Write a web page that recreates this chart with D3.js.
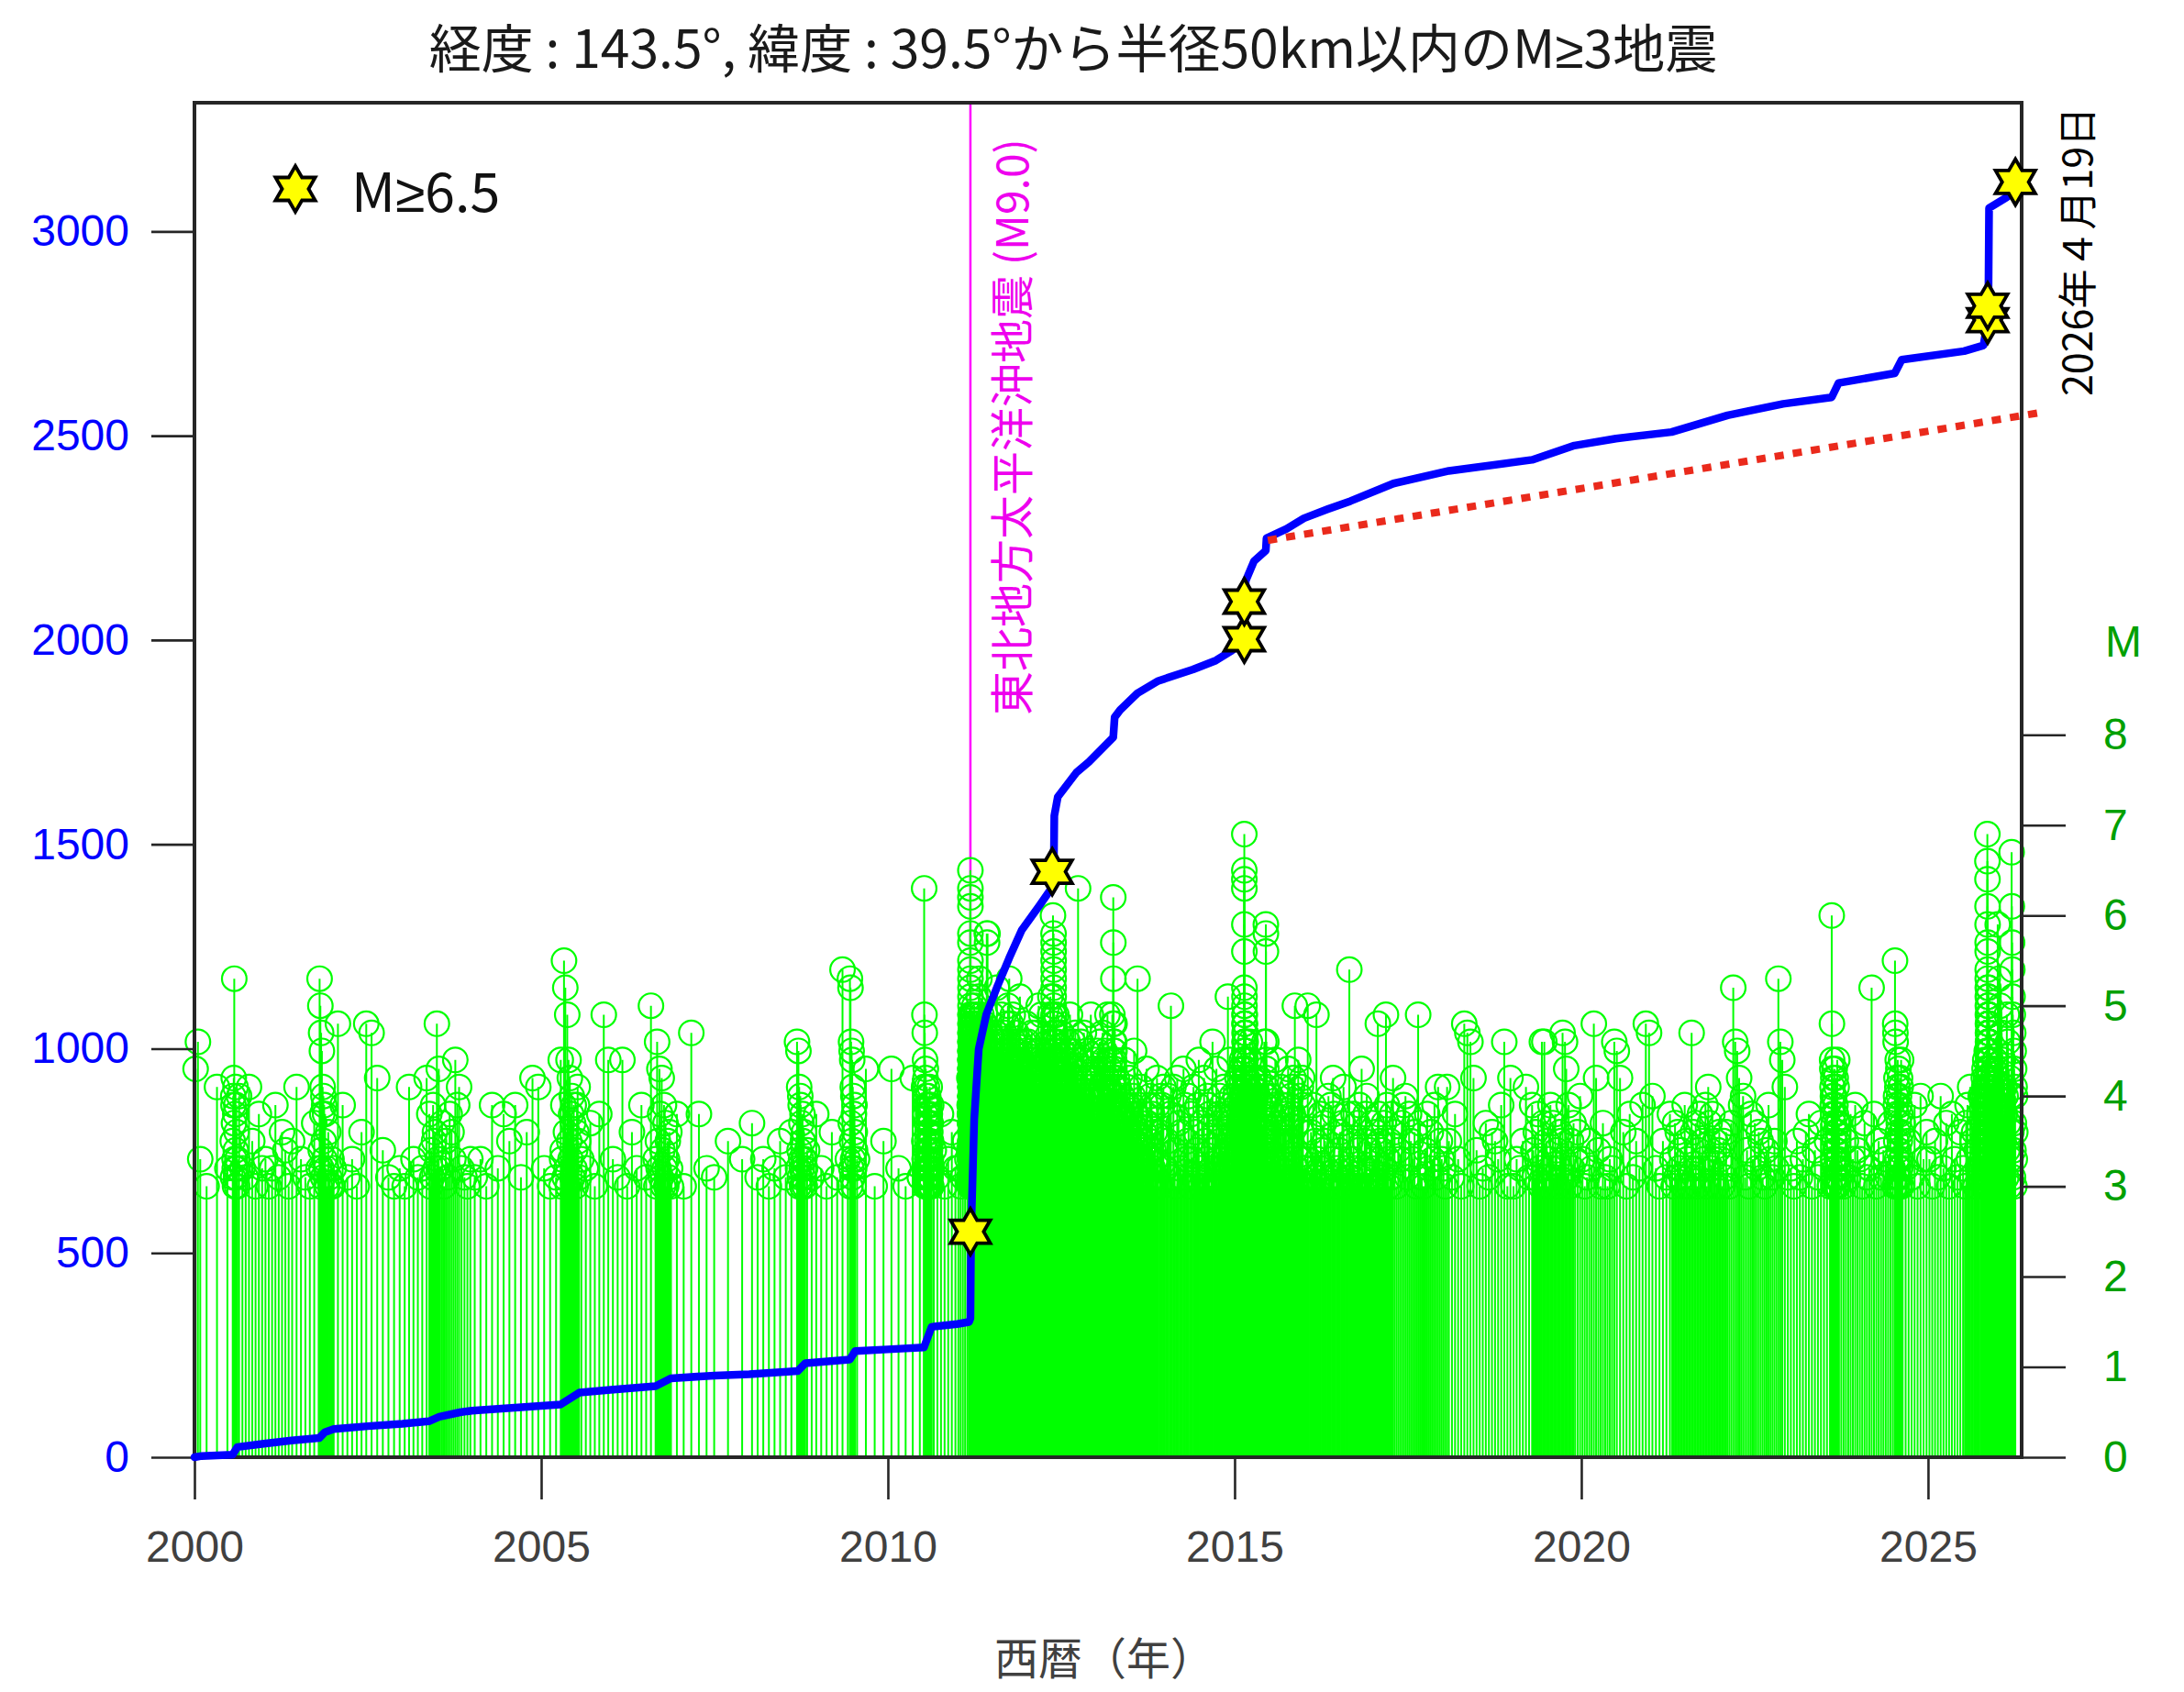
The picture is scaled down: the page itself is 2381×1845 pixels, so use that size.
<!DOCTYPE html>
<html>
<head>
<meta charset="utf-8">
<script src="https://cdn.jsdelivr.net/npm/d3@7"></script>
<style>
  body { margin: 0; background: #fff; }
</style>
</head>
<body>
<svg id="chart" width="2381" height="1845"></svg>
<script>
// Cumulative number of M>=3 quakes (left axis), as a time series in decimal years.
const countYears = [
  2000.00, 2000.10, 2000.55, 2000.62, 2001.00, 2001.40, 2001.80, 2001.88, 2002.01, 2002.50,
  2003.00, 2003.38, 2003.53, 2003.83, 2004.00, 2005.28, 2005.55, 2006.00, 2006.65, 2006.87,
  2007.50, 2008.00, 2008.70, 2008.81, 2009.45, 2009.53, 2010.00, 2010.52, 2010.63, 2011.00,
  2011.17, 2011.19, 2011.20, 2011.245, 2011.31, 2011.42, 2011.58, 2011.75, 2011.93, 2012.19,
  2012.39, 2012.40, 2012.45, 2012.72, 2012.90, 2013.25, 2013.27, 2013.35, 2013.60, 2013.90,
  2014.40, 2014.73, 2014.95, 2015.14, 2015.15, 2015.16, 2015.28, 2015.45, 2015.46, 2015.75,
  2016.00, 2016.34, 2016.67, 2017.29, 2018.09, 2019.29, 2019.90, 2020.50, 2021.30, 2022.11,
  2022.91, 2023.61, 2023.71, 2024.52, 2024.62, 2025.52, 2025.80, 2025.86, 2025.87, 2025.88,
  2026.13, 2026.20, 2026.26
];
const countValues = [
  0, 3, 6, 25, 33, 41, 47, 61, 69, 76,
  82, 88, 99, 110, 114, 129, 158, 165, 174, 193,
  200, 203, 211, 230, 239, 260, 264, 269, 319, 326,
  331, 340, 552, 827, 999, 1084, 1153, 1222, 1290, 1351,
  1400, 1570, 1616, 1676, 1702, 1762, 1811, 1829, 1870, 1900,
  1928, 1950, 1973, 1999, 2094, 2145, 2193, 2219, 2249, 2272,
  2298, 2320, 2340, 2383, 2414, 2441, 2476, 2493, 2509, 2550,
  2578, 2594, 2629, 2653, 2686, 2707, 2721, 2783, 2818, 3057,
  3083, 3092, 3110
];

// M>=6.5 events, placed on the running count.
const majorYears  = [2011.19, 2012.37, 2015.14, 2015.14, 2025.86, 2025.86, 2026.26];
const majorCounts = [552, 1433, 2002, 2094, 2783, 2818, 3121];

// Pre-2015 rate extended forward (red dotted line).
const trendYears  = [2015.48, 2026.60];
const trendCounts = [2244, 2556];

const mainshockYear = 2011.19;

const yearTicks  = [2000, 2005, 2010, 2015, 2020, 2025];
const countTicks = [0, 500, 1000, 1500, 2000, 2500, 3000];
const magTicks   = [0, 1, 2, 3, 4, 5, 6, 7, 8];

// Magnitudes of the individual quakes, one code string per calendar year, in time order.
// Each symbol is M = 3.0 + 0.1 * (its position in MAG_SYMBOLS).
const MAG_SYMBOLS = "0123456789ABCDEFGHIJKLMNOPQRSTUVWXYZabcde";
const quakeYearStarts = [
  2000, 2001, 2002, 2003, 2004, 2005, 2006, 2007, 2008, 2009, 2010, 2011, 2012, 2013,
  2014, 2015, 2016, 2017, 2018, 2019, 2020, 2021, 2022, 2023, 2024, 2025, 2026
];
const quakeMagCodes = [
  // 2000
  "DG30B251A9C7N3208B4196203A21B5082",
  // 2001
  "302916405B31072N0K4H2F8B1A59382061030",
  // 2002
  "2I91306IHC4102",
  // 2003
  "0B312C80419562I3D27051863E9B2103",
  // 2004
  "1309285916CB",
  // 2005
  "201E0349P1M62J0E5C38A17924069B5132708JE",
  // 2006
  "31E06291K30G52D81C4092703516208",
  // 2007
  "0H82153",
  // 2008
  "71302516G2F0B41A9372085136302418",
  // 2009
  "2061O3N0M7G2F5E1B3A0829643D05",
  // 2010
  "D20C1BX5J3H0E28C1D4A0927B35160298A417035291B8406217359024180362",
  // 2011
  "2015341C093817" +
  "Z4X0W27V1S3R58A0P2OBN6C1M4D0L9K3E7J2F5I0H8G1" +
  "4A1F30C72G5B08D3H16E0B52E9A3I41C07F28D6J3C90A4G16B2E85D0F7A3H2A60C4B81E37D9G05B2" +
  "1F4A08C3J62B5D9E0A747D2B5G0A91C4E3F82H065A3C8E1B04G7D2A96F3I2E0B6A4D91C5H3F72A08" +
  "A4B6C20D5E3F" +
  "9C1A5E3B70D8G2F46A1J6B4D0A2C85E1I37G9F0A0B52E9A3I41C07F28D6J4A1F30C72G5B08D3H16E" +
  "H2A60C4B81E37D9G05B23C90A4G16B2E85D0F7A37D2B5G0A91C4E3F82H061F4A08C3J62B5D9E0A74" +
  "2E0B6A4D91C5H3F72A085A3C8E1B04G7D2A96F3I6B4D0A2C85E1I37G9F0A9C1A5E3B70D8G2F46A1J" +
  "0B52E9A3I41C07F28D6J4A1F30C72G5B08D3H16EH2A60C4B81E37D9G05B2K3A9C1E5B0G27D4" +
  "7D2B5G0A91C4E3F82H063C90A4G16B2E85D0F7A31F4A08C3J62B5D9E0A745A3C8E1B04G7D2A96F3I" +
  "2E0B6A4D91C5H3F72A089C1A5E3B70D8G2F46A1J6B4D0A2C85E1I37G9F0A4A1F30C72G5B08D3H16E" +
  "L0A4C8E2N6B1" +
  "0B52E9A3I41C07F28D6JH2A60C4B81E37D9G05B25A3C8E1B04G7D2A96F3I3C90A4G16B2E85D0F7A3S1R36" +
  "S7D2B5G0A91C4E3F82H061F4A08C3J62B5D9E0A742E0B6A4D91C5H3F72A08M0A3B51D" +
  "9C1A5E3B70D8G2F46A1J4A1F30C72G5B08D3H16E6B4D0A2C85E1I37G9F0AK2A6C0E4N" +
  "0B52E9A3I41C07F28D6J3C90A4G16B2E85D0F7A3H2A60C4B81E37D9G05B2L1A5C9E3" +
  "5A3C8E1B04G7D2A96F3I",
  // 2012
  "7D2B5G0A91C4E3F82H062E0B6A4D91C5H3F72A08K" +
  "1F4A08C3J62B5D9E0A749C1A5E3B70D8G2F46A1JL0B3E6A92" +
  "U4S0R2Q7P1O3N5M8L0K6J2I9H1G4F7E0D3C5B8A1" +
  "4A1F30C72G5B08D3H16E0B52E9A3I41C07F28D6J6B4D0A2C85E1I37G9F0A3C90A4G16B2E85D0F7A3" +
  "H2A60C4B81E37D9G05B25A3C8E1B04G7D2A96F3IJ4A6B8C0D2" +
  "7D2B5G0A91C4E3F82H061F4A08C3J62B5D9E0A74G3A5B7" +
  "2E0B6A4D91C5H3F72A089C1A5E3B70D8G2F46A1J4A1F30C72G5B08D3H16E" +
  "4A7X0B3C6G9E2A5H8C1D4F7A0B" +
  "3C60J2A5B8C1D4E70",
  // 2013
  "4A1F30C72G5B08D3H16E1F4A08C3J62B5D9E0A74J2I" +
  "W2R5N83C90A4G16B2E85D0F7A35A3C8E1B04G7D2A96F3IA0B" +
  "3A0172C50489B13605" +
  "1604A3829E05173B29065C2081937A40F6251803N" +
  "0917B3546028D1735A498240631C90" +
  "6A9B2",
  // 2014
  "25A8K1B40C7261D935A083B1649E2071C53A9802G461D3087A52913B06482L57E09A21630",
  // 2015
  "3A619C0B4827D1E5A30" +
  "dZ1Y4X7T0Q3M6A9B2C5D8E1K4L7J0I3H6G9F2E5D8C1B4A7" +
  "0B52E9A3I41C07F28D6J6B4D0A2C85E1I37G9F0A4A1F30C72G5B08D3H16E2E0B6A4D91C5H3F72A08" +
  "H2A60C4B81E37D9G05B2" +
  "8240631C90527B41E3682G51940A73862C05193B3A0172C5" +
  "3A0172C50489B136052G6A03" +
  "T8S1Q40A72C3506E9A2B51G8D14A7" +
  "1604A3829E05173B2906583" +
  "1D902A5B8C1K4071E0A3B6C92",
  // 2016
  "203K1062915J3028417520A193C80214637B0281O51382007491D2058A014270",
  // 2017
  "3062I8504172J930518C604379A185360J7104826391B53",
  // 2018
  "20B51830IHGC402716539G0C",
  // 2019
  "0325B194163820G7G15039271840265H3GD19052736A",
  // 2020
  "30152IC4071032GFC6081529IH",
  // 2021
  "A2051830716241095302H61704825390B72835046",
  // 2022
  "30516207MGFC9A14083726510493152NGEB1",
  // 2023
  "20513680417250UIEDB9A8C3701A5D2469C8014B37E250631720518394",
  // 2024
  "30712M8051431720PIHG9A5C803B1E62D47A0915C28B3E60725190A36",
  // 2025
  "3051A2708316" +
  "20793B1560428A" +
  "3A0172C50489B13605D21604A3829E05173B29065C2081937A40F6251803A1" +
  "daYVTRQO1N4M7L0K3J6I9H2G5F8E1D4C7B0" +
  "4A1F30C72G5B08D3H16EK0L3M60B52E9A3I41C07F28D6J6B4D0A2C85E1I37G9F0A3C90A4G16B2E85D0F7A3" +
  "H2A60C4B81E37D9G05B25A3C8E1B04G7D2A96F3I7D2B5G0A91C4E3F82H061F4A08C3J62B5D9E0A74" +
  "2E0B6A4D91C5H3F72A089C1A5E3B70D8G2F46A1J0B52E9A3I41C07F28D6J4A1F30C72G5B08D3H16E" +
  "2A5B8C1D4E7A0B3" +
  "1A4B7C0D3E6A9",
  // 2026
  "T3N6K9H2E5B8A1J4G7D0C3A6bVROLJ1H4F7D0B3A6"
];

// ---------- helpers on the running-count curve ----------
function countAtYear(t) {
  const i = d3.bisectRight(countYears, t);
  if (i <= 0) return countValues[0];
  if (i >= countYears.length) return countValues[countValues.length - 1];
  const t0 = countYears[i - 1], t1 = countYears[i];
  return countValues[i - 1] + (countValues[i] - countValues[i - 1]) * (t - t0) / (t1 - t0);
}
function yearAtCount(k) {
  const i = d3.bisectLeft(countValues, k);
  if (i <= 0) return countYears[0];
  if (i >= countValues.length) return countYears[countYears.length - 1];
  const c0 = countValues[i - 1], c1 = countValues[i];
  return countYears[i - 1] + (countYears[i] - countYears[i - 1]) * (k - c0) / (c1 - c0);
}

// Each quake sits where the running count passes its own index within the year.
const lastCount = countValues[countValues.length - 1];
const quakes = [];
quakeMagCodes.forEach((codes, j) => {
  const c0 = countAtYear(quakeYearStarts[j]);
  const c1 = j + 1 < quakeYearStarts.length ? countAtYear(quakeYearStarts[j + 1]) : lastCount;
  for (let i = 0; i < codes.length; i++) {
    const k = c0 + (i + 0.5) / codes.length * (c1 - c0);
    quakes.push({ t: yearAtCount(k), m: 3 + MAG_SYMBOLS.indexOf(codes[i]) / 10 });
  }
});

// ---------- layout & scales ----------
const plot = { left: 212, right: 2204, top: 112, bottom: 1589 };
const x = d3.scaleLinear().domain([2000, 2026.35]).range([plot.left, plot.right]);
const yCount = d3.scaleLinear().domain([0, 3315]).range([plot.bottom, plot.top]);
const yMag = d3.scaleLinear().domain([0, 15]).range([plot.bottom, plot.top]);

const svg = d3.select("#chart");
svg.append("rect").attr("width", 2381).attr("height", 1845).attr("fill", "#fff");

const AXIS_INK = "#262626";
const LATIN = "'Liberation Sans', Arial, Helvetica, sans-serif";
const CJK = "'Noto Sans CJK JP', 'Noto Sans', sans-serif";
const MAG_GREEN = "#00a000";

// Mainshock marker line
svg.append("line")
  .attr("x1", x(mainshockYear)).attr("x2", x(mainshockYear))
  .attr("y1", plot.top).attr("y2", plot.bottom)
  .attr("stroke", "#ff00ff").attr("stroke-width", 2.5);

// Magnitude stems
const stems = svg.append("g").attr("stroke", "#00ff00").attr("fill", "none");
stems.selectAll("line").data(quakes).join("line")
  .attr("x1", d => x(d.t)).attr("x2", d => x(d.t))
  .attr("y1", yMag(0)).attr("y2", d => yMag(d.m))
  .attr("stroke-width", 2);
stems.selectAll("circle").data(quakes).join("circle")
  .attr("cx", d => x(d.t)).attr("cy", d => yMag(d.m))
  .attr("r", 13.4).attr("stroke-width", 2.2);

// Axes
function styleAxis(g, color) {
  g.select(".domain").remove();
  g.selectAll(".tick line").attr("stroke", AXIS_INK).attr("stroke-width", 2.6);
  g.selectAll(".tick text").attr("fill", color).attr("font-size", 48).attr("font-family", LATIN);
}
svg.append("g").attr("transform", `translate(${plot.left},0)`)
  .call(d3.axisLeft(yCount).tickValues(countTicks).tickSize(47).tickPadding(24).tickFormat(d3.format("d")))
  .call(g => styleAxis(g, "#0000ff"));
svg.append("g").attr("transform", `translate(0,${plot.bottom})`)
  .call(d3.axisBottom(x).tickValues(yearTicks).tickSize(46).tickPadding(34).tickFormat(d3.format("d")))
  .call(g => styleAxis(g, "#404040"));
svg.append("g").attr("transform", `translate(${plot.right},0)`)
  .call(d3.axisRight(yMag).tickValues(magTicks).tickSize(48).tickPadding(41).tickFormat(d3.format("d")))
  .call(g => styleAxis(g, MAG_GREEN));

svg.append("rect")
  .attr("x", plot.left).attr("y", plot.top)
  .attr("width", plot.right - plot.left).attr("height", plot.bottom - plot.top)
  .attr("fill", "none").attr("stroke", AXIS_INK).attr("stroke-width", 4);

// Running count
const countLine = d3.line().x(d => x(d[0])).y(d => yCount(d[1]));
svg.append("path")
  .attr("d", countLine(countYears.map((t, i) => [t, countValues[i]])))
  .attr("fill", "none").attr("stroke", "#0000ff").attr("stroke-width", 8.5)
  .attr("stroke-linejoin", "round").attr("stroke-linecap", "round");

// Extrapolated background rate
svg.append("path")
  .attr("d", countLine(trendYears.map((t, i) => [t, trendCounts[i]])))
  .attr("fill", "none").attr("stroke", "#ea2a1c").attr("stroke-width", 8)
  .attr("stroke-dasharray", "10 10");

// Six-pointed star symbol
function hexagram(R) {
  const r = R / Math.sqrt(3), pts = [];
  for (let i = 0; i < 12; i++) {
    const a = -Math.PI / 2 + i * Math.PI / 6, rr = i % 2 ? r : R;
    pts.push([rr * Math.cos(a), rr * Math.sin(a)]);
  }
  return "M" + pts.map(p => p[0].toFixed(2) + "," + p[1].toFixed(2)).join("L") + "Z";
}
const starPath = hexagram(25);
svg.append("g").selectAll("path").data(majorYears.map((t, i) => [t, majorCounts[i]])).join("path")
  .attr("d", starPath)
  .attr("transform", d => `translate(${x(d[0])},${yCount(d[1])})`)
  .attr("fill", "#ffff00").attr("stroke", "#000").attr("stroke-width", 3.8)
  .attr("stroke-linejoin", "miter").attr("stroke-miterlimit", 10);

// Legend
svg.append("path").attr("d", starPath).attr("transform", "translate(322,206)")
  .attr("fill", "#ffff00").attr("stroke", "#000").attr("stroke-width", 3.8)
  .attr("stroke-linejoin", "miter").attr("stroke-miterlimit", 10);
const legendText = svg.append("text").attr("x", 383).attr("y", 231)
  .attr("font-family", CJK).attr("font-size", 59).attr("fill", "#111");
legendText.append("tspan").text("M");
legendText.append("tspan").attr("font-family", LATIN).text("≥");
legendText.append("tspan").text("6.5");

// Title and axis titles
const title = svg.append("text").attr("x", 1170).attr("y", 74).attr("text-anchor", "middle")
  .attr("font-family", CJK).attr("font-size", 57).attr("fill", "#1a1a1a");
title.append("tspan").text("経度 : 143.5°, 緯度 : 39.5°から半径50km以内のM");
title.append("tspan").attr("font-family", LATIN).text("≥");
title.append("tspan").text("3地震");

svg.append("text").attr("x", 1204).attr("y", 1826).attr("text-anchor", "middle")
  .attr("font-family", CJK).attr("font-size", 48).attr("fill", "#404040")
  .text("西暦（年）");
svg.append("text").attr("x", 2295).attr("y", 716)
  .attr("font-family", LATIN).attr("font-size", 48).attr("fill", MAG_GREEN)
  .text("M");

// Rotated annotations
svg.append("text").attr("transform", `translate(1100,780) rotate(-90)`)
  .attr("dominant-baseline", "central")
  .attr("font-family", CJK).attr("font-size", 48).attr("fill", "#ee00ee")
  .text("東北地方太平洋沖地震 (M9.0)");
svg.append("text").attr("transform", `translate(2262,432) rotate(-90)`)
  .attr("dominant-baseline", "central")
  .attr("font-family", CJK).attr("font-size", 43).attr("fill", "#000")
  .text("2026年４月19日");
</script>
</body>
</html>
